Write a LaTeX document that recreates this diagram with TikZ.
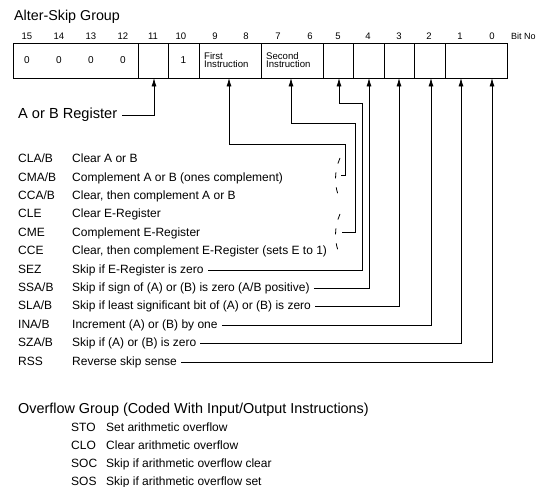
\documentclass[tikz,border=0pt]{standalone}
\usepackage{fontspec}
\setmainfont{Liberation Sans}
\usetikzlibrary{arrows.meta}
\begin{document}
\begin{tikzpicture}[x=1pt,y=-1pt,
  title/.style={anchor=west,inner xsep=0pt,inner ysep=0pt,text height=7pt,text depth=0pt,font=\fontsize{14.3}{16}\selectfont},
  bitno/.style={inner sep=0pt,font=\fontsize{9.5}{11}\selectfont},
  cell/.style={draw,line width=0.9pt,minimum height=35pt,inner sep=0pt,font=\fontsize{10}{12}\selectfont},
  small/.style={anchor=west,inner sep=0pt,align=left,font=\fontsize{9.6}{11}\selectfont},
  item/.style={anchor=west,inner xsep=0pt,inner ysep=0pt,text height=6.3pt,text depth=0pt,font=\fontsize{12}{14}\selectfont},
  arr/.style={-{Latex[length=8.5pt,width=5pt]},line width=0.8pt},
  dashmark/.style={line width=0.8pt,dash pattern=on 6pt off 9pt}]
\useasboundingbox (0,0) rectangle (536,487);
% title
\node[title] (ttl) at (14,17) {Alter-Skip Group};
% bit numbers
\foreach \b/\x in {15/27,14/59,13/91,12/123,11/153,10/181,9/215,8/246,7/278,6/310,5/338,4/368,3/399,2/429,1/460,0/492}
  \node[bitno] (n\b) at (\x,36) {\b};
\node[bitno,anchor=west,font=\fontsize{9}{11}\selectfont] (bitlbl) at (511,36) {Bit No};
% register cells
\node[cell,minimum width=125pt] (c1512) at (75.5,60.5) {};
\node[cell,minimum width=30pt] (c11) at (153,60.5) {};
\node[cell,minimum width=31pt] (c10) at (183.5,60.5) {1};
\node[cell,minimum width=62pt] (c98) at (230,60.5) {};
\node[cell,minimum width=62pt] (c76) at (292,60.5) {};
\node[cell,minimum width=30pt] (c5) at (338,60.5) {};
\node[cell,minimum width=31pt] (c4) at (368.5,60.5) {};
\node[cell,minimum width=30pt] (c3) at (399,60.5) {};
\node[cell,minimum width=31pt] (c2) at (429.5,60.5) {};
\node[cell,minimum width=62pt] (c10b) at (476,60.5) {};
\foreach \x/\nm in {27/z15,59/z14,91/z13,123/z12}
  \node[inner sep=0pt,font=\fontsize{10}{12}\selectfont] (\nm) at (\x,60.5) {0};
\node[small] (first) at (204,60) {First\\[-2.5pt]Instruction};
\node[small] (second) at (266,60) {Second\\[-2.5pt]Instruction};
% arrow targets on the register bottom
\foreach \n/\x in {t11/154,t98/229,t76/291,t5/339,t4/369,t3/399,t2/431,t1/461,t0/492}
  \coordinate (\n) at (\x,78);
\coordinate (j98) at (345,144);
\coordinate (j76) at (355,123);
\coordinate (j5) at (362,103);
\coordinate (b98) at (341,175);
\coordinate (b76) at (342,232);
% A or B register
\node[title,font=\fontsize{14.6}{16}\selectfont] (areg) at (18,115) {A or B Register};
\draw[arr] ([xshift=5pt]areg.east) -| (t11);
% list
\foreach \nm/\mn/\y in {cla/CLA\slash B/159.5, cma/CMA\slash B/177.9, cca/CCA\slash B/196.3, cle/CLE/214.7, cme/CME/233.1, cce/CCE/251.5, sez/SEZ/269.9, ssa/SSA\slash B/288.3, sla/SLA\slash B/306.7, ina/INA\slash B/325.1, sza/SZA\slash B/343.5, rss/RSS/361.9}
  \node[item] (m\nm) at (18,\y) {\mn};
\node[item] (dcla) at (72,159.5) {Clear A or B};
\node[item] (dcma) at (72,177.9) {Complement A or B (ones complement)};
\node[item] (dcca) at (72,196.3) {Clear, then complement A or B};
\node[item] (dcle) at (72,214.7) {Clear E-Register};
\node[item] (dcme) at (72,233.1) {Complement E-Register};
\node[item] (dcce) at (72,251.5) {Clear, then complement E-Register (sets E to 1)};
\node[item] (dsez) at (72,269.9) {Skip if E-Register is zero};
\node[item] (dssa) at (72,288.3) {Skip if sign of (A) or (B) is zero (A/B positive)};
\node[item] (dsla) at (72,306.7) {Skip if least significant bit of (A) or (B) is zero};
\node[item] (dina) at (72,325.1) {Increment (A) or (B) by one};
\node[item] (dsza) at (72,343.5) {Skip if (A) or (B) is zero};
\node[item] (drss) at (72,361.9) {Reverse skip sense};
% connectors
\draw[arr] (b98) -| (j98) -| (t98);
\draw[arr] (b76) -| (j76) -| (t76);
\draw[arr] ([xshift=4pt]dsez.east) -| (j5) -| (t5);
\draw[arr] ([xshift=4pt]dssa.east) -| (t4);
\draw[arr] ([xshift=4pt]dsla.east) -| (t3);
\draw[arr] ([xshift=4pt]dina.east) -| (t2);
\draw[arr] ([xshift=4pt]dsza.east) -| (t1);
\draw[arr] ([xshift=4pt]drss.east) -| (t0);
% dashed group marks
\draw[dashmark] (340,158) .. controls (334,172) and (334,186) .. (340,200);
\draw[dashmark] (340,214) .. controls (334,228) and (334,242) .. (340,256);
% overflow group
\node[title,font=\fontsize{14.4}{16}\selectfont] (ovt) at (18,410) {Overflow Group (Coded With Input/Output Instructions)};
\node[item] (msto) at (71,428.5) {STO};
\node[item] (mclo) at (71,446.5) {CLO};
\node[item] (msoc) at (71,464.5) {SOC};
\node[item] (msos) at (71,482) {SOS};
\node[item] (dsto) at (106,428.5) {Set arithmetic overflow};
\node[item] (dclo) at (106,446.5) {Clear arithmetic overflow};
\node[item] (dsoc) at (106,464.5) {Skip if arithmetic overflow clear};
\node[item] (dsos) at (106,482) {Skip if arithmetic overflow set};
\end{tikzpicture}
\end{document}
